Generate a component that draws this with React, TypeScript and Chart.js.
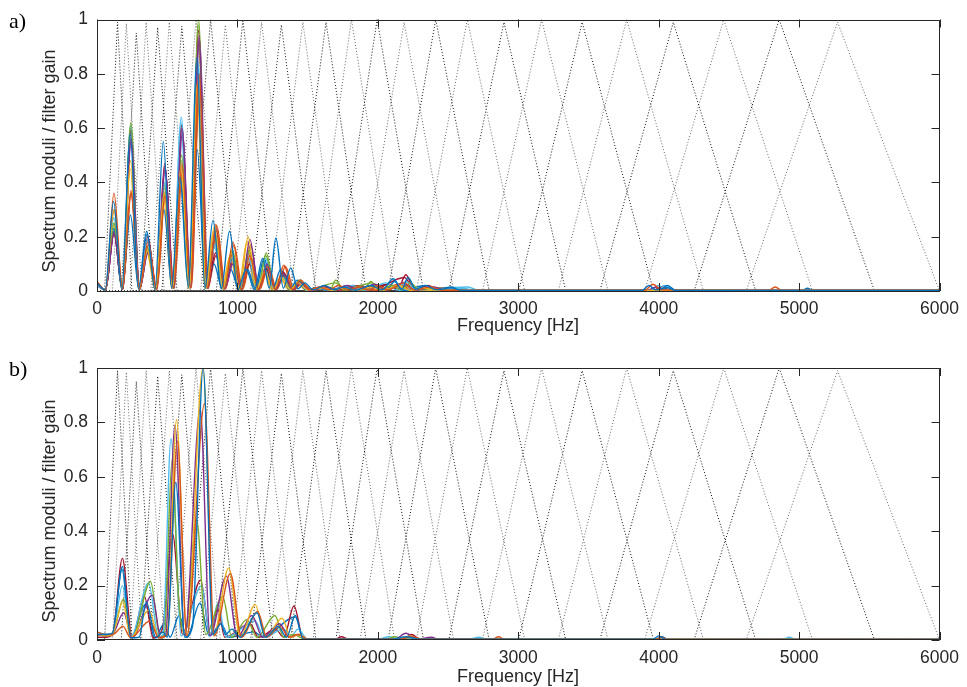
import React, { useEffect, useRef } from "react";
import { Chart, registerables } from "chart.js";
Chart.register(...registerables);

// ---------- axes ----------
const X_TICKS = [0, 1000, 2000, 3000, 4000, 5000, 6000];
const X_LABELS = ["0", "1000", "2000", "3000", "4000", "5000", "6000"];
const Y_TICKS = [0, 0.2, 0.4, 0.6, 0.8, 1];
const Y_LABELS = ["0", "0.2", "0.4", "0.6", "0.8", "1"];
const X_TITLE = "Frequency [Hz]";
const Y_TITLE = "Spectrum moduli / filter gain";

// ---------- mel filter bank (Hz) ----------
const FILTER_CENTERS = [146, 209, 280, 350, 432, 515, 604, 705, 809, 914, 1039, 1172, 1313, 1466, 1631, 1812, 1995, 2187, 2412, 2637, 2898, 3166, 3455, 3772, 4104, 4463, 4858, 5274];
const FILTER_LEFT = [54, 110, 173, 236, 309, 383, 462, 553, 645, 738, 850, 968, 1094, 1230, 1377, 1538, 1701, 1873, 2073, 2274, 2506, 2745, 3003, 3285, 3581, 3900, 4252, 4623];
const FILTER_RIGHT = [249, 320, 400, 479, 570, 664, 763, 878, 993, 1111, 1252, 1401, 1559, 1731, 1916, 2119, 2325, 2540, 2793, 3046, 3338, 3639, 3963, 4319, 4691, 5095, 5537, 6000];
const FILTER_PEAK = [0.99, 0.985, 0.95, 0.99, 0.97, 0.99, 0.975, 1, 1, 0.98, 1, 0.99, 0.98, 0.99, 0.99, 1, 1, 0.99, 1, 1, 0.99, 1, 0.99, 1, 0.99, 1, 1, 0.99];

// ---------- spectra, panel a: [Hz, modulus, Hz, modulus, ...] ----------
const A1 = [0,0.03, 58,0.004, 118,0.33, 177,0.006, 236,0.58, 295,0.008, 354,0.22, 413,0.006, 472,0.55, 531,0.01, 590,0.42, 650,0.015, 712,0.86, 768,0.01, 826,0.26, 885,0.008, 944,0.22, 1003,0.006, 1062,0.08, 1121,0.006, 1180,0.12, 1227,0.01, 1274,0.195, 1327,0.01, 1380,0.085, 1430,0.008, 1480,0.03, 1540,0.004, 1620,0.02, 1690,0.004, 1760,0.015, 1840,0.003, 1950,0.02, 2030,0.004, 2110,0.045, 2170,0.006, 2215,0.05, 2270,0.006, 2340,0.02, 2420,0.004, 2520,0.012, 2600,0.002, 3880,0.002, 3930,0.02, 3980,0.004, 4060,0.012, 4120,0.002, 6000,0.002];
const A2 = [0,0.035, 60,0.004, 121,0.36, 182,0.006, 242,0.37, 302,0.008, 363,0.18, 424,0.006, 484,0.35, 545,0.01, 605,0.47, 666,0.012, 726,0.80, 787,0.01, 847,0.245, 908,0.008, 968,0.18, 1029,0.006, 1089,0.13, 1150,0.006, 1210,0.09, 1270,0.006, 1331,0.095, 1392,0.006, 1452,0.04, 1512,0.004, 1580,0.015, 1650,0.004, 1720,0.02, 1790,0.004, 1860,0.015, 1930,0.004, 2000,0.02, 2070,0.004, 2190,0.03, 2260,0.004, 2380,0.015, 2460,0.002, 3900,0.002, 3960,0.025, 4020,0.004, 4780,0.002, 4830,0.015, 4880,0.002, 6000,0.002];
const A3 = [0,0.03, 60,0.004, 120,0.30, 180,0.006, 239,0.48, 299,0.008, 359,0.15, 418,0.006, 478,0.36, 538,0.01, 598,0.46, 657,0.01, 717,0.77, 777,0.01, 837,0.24, 896,0.008, 956,0.14, 1016,0.006, 1076,0.20, 1135,0.006, 1195,0.07, 1255,0.005, 1315,0.05, 1375,0.005, 1434,0.03, 1500,0.004, 1600,0.012, 1680,0.003, 1760,0.012, 1840,0.003, 1960,0.015, 2040,0.003, 2150,0.02, 2230,0.003, 2330,0.01, 2420,0.002, 6000,0.002];
const A4 = [0,0.025, 60,0.004, 121,0.21, 182,0.005, 242,0.56, 302,0.008, 363,0.14, 424,0.006, 484,0.46, 545,0.01, 605,0.60, 666,0.012, 726,0.94, 787,0.01, 847,0.23, 908,0.008, 968,0.10, 1029,0.006, 1089,0.19, 1150,0.006, 1210,0.10, 1270,0.006, 1331,0.06, 1392,0.005, 1452,0.03, 1512,0.003, 1600,0.015, 1680,0.003, 1780,0.02, 1860,0.003, 1980,0.025, 2060,0.003, 2180,0.03, 2260,0.003, 2400,0.015, 2480,0.002, 3920,0.002, 3980,0.015, 4040,0.002, 6000,0.002];
const A5 = [0,0.03, 60,0.004, 121,0.25, 181,0.006, 241,0.62, 301,0.008, 362,0.15, 422,0.006, 482,0.38, 542,0.01, 603,0.50, 663,0.012, 723,1.0, 784,0.01, 844,0.21, 904,0.008, 964,0.15, 1024,0.006, 1085,0.15, 1145,0.006, 1205,0.14, 1266,0.006, 1326,0.06, 1386,0.005, 1446,0.04, 1510,0.004, 1600,0.015, 1660,0.004, 1700,0.04, 1760,0.004, 1850,0.015, 1900,0.004, 1950,0.035, 2010,0.004, 2100,0.02, 2170,0.004, 2230,0.03, 2300,0.004, 2420,0.012, 2500,0.002, 6000,0.002];
const A6 = [0,0.02, 60,0.004, 120,0.27, 180,0.006, 240,0.61, 300,0.008, 360,0.19, 420,0.006, 480,0.40, 540,0.01, 600,0.64, 660,0.012, 720,0.83, 780,0.01, 840,0.17, 900,0.008, 960,0.12, 1020,0.006, 1080,0.12, 1140,0.006, 1200,0.12, 1260,0.006, 1320,0.05, 1380,0.005, 1440,0.03, 1500,0.003, 1580,0.012, 1660,0.003, 1820,0.02, 1900,0.003, 2060,0.03, 2130,0.004, 2200,0.035, 2270,0.004, 2600,0.01, 2700,0.002, 3940,0.002, 4000,0.02, 4060,0.002, 6000,0.002];
const A7 = [0,0.02, 60,0.004, 121,0.21, 181,0.006, 241,0.59, 301,0.008, 362,0.20, 422,0.006, 482,0.47, 542,0.01, 603,0.61, 663,0.012, 723,0.96, 784,0.01, 844,0.14, 904,0.008, 964,0.12, 1024,0.006, 1085,0.10, 1145,0.006, 1205,0.08, 1266,0.006, 1326,0.07, 1386,0.005, 1446,0.04, 1510,0.004, 1620,0.015, 1700,0.003, 1830,0.02, 1900,0.003, 2080,0.025, 2140,0.004, 2200,0.06, 2260,0.004, 2360,0.02, 2440,0.002, 3960,0.002, 4020,0.015, 4080,0.002, 6000,0.002];
const A8 = [0,0.03, 60,0.004, 119,0.23, 178,0.006, 238,0.28, 297,0.008, 357,0.21, 416,0.006, 476,0.30, 535,0.01, 595,0.41, 655,0.012, 714,0.52, 773,0.01, 833,0.10, 892,0.008, 952,0.08, 1011,0.006, 1071,0.08, 1130,0.006, 1190,0.12, 1250,0.006, 1309,0.08, 1368,0.005, 1428,0.04, 1490,0.004, 1560,0.012, 1640,0.003, 1760,0.015, 1830,0.003, 2000,0.02, 2060,0.003, 2120,0.035, 2180,0.003, 2340,0.02, 2400,0.003, 2520,0.015, 2600,0.002, 4000,0.002, 4060,0.02, 4120,0.003, 5020,0.002, 5060,0.01, 5100,0.002, 6000,0.002];
const A9 = [0,0.03, 61,0.004, 122,0.30, 183,0.006, 244,0.36, 305,0.008, 366,0.17, 427,0.006, 488,0.37, 549,0.01, 610,0.45, 671,0.012, 732,0.78, 793,0.01, 854,0.24, 915,0.008, 976,0.17, 1037,0.006, 1098,0.12, 1159,0.006, 1220,0.09, 1281,0.006, 1342,0.09, 1403,0.005, 1464,0.03, 1530,0.003, 1620,0.012, 1700,0.003, 1900,0.015, 1980,0.003, 2160,0.025, 2240,0.003, 2480,0.01, 2560,0.002, 6000,0.002];
const A10 = [0,0.03, 59,0.004, 119,0.24, 178,0.006, 237,0.45, 296,0.008, 356,0.14, 415,0.006, 474,0.34, 533,0.01, 593,0.44, 652,0.01, 711,0.76, 770,0.01, 830,0.22, 889,0.008, 948,0.13, 1007,0.006, 1067,0.18, 1126,0.006, 1185,0.08, 1245,0.005, 1304,0.05, 1363,0.005, 1422,0.03, 1490,0.003, 1560,0.01, 1640,0.003, 1780,0.012, 1860,0.003, 2230,0.015, 2300,0.003, 6000,0.002];
const A11 = [0,0.025, 61,0.004, 122,0.22, 183,0.005, 243,0.55, 304,0.008, 365,0.15, 426,0.006, 486,0.45, 547,0.01, 608,0.58, 669,0.012, 729,0.93, 790,0.01, 851,0.22, 912,0.008, 972,0.11, 1033,0.006, 1094,0.17, 1155,0.006, 1215,0.09, 1276,0.006, 1337,0.06, 1398,0.005, 1458,0.03, 1520,0.003, 1640,0.012, 1720,0.003, 1900,0.015, 1980,0.003, 2200,0.02, 2280,0.003, 6000,0.002];
const A12 = [0,0.03, 60,0.004, 120,0.25, 180,0.006, 240,0.60, 300,0.008, 361,0.16, 421,0.006, 481,0.39, 541,0.01, 601,0.48, 661,0.012, 721,0.98, 782,0.01, 842,0.20, 902,0.008, 962,0.14, 1022,0.006, 1082,0.15, 1142,0.006, 1202,0.13, 1262,0.006, 1323,0.06, 1383,0.005, 1443,0.035, 1500,0.003, 1700,0.03, 1760,0.003, 1960,0.03, 2020,0.003, 2220,0.02, 2300,0.003, 6000,0.002];
const A13 = [0,0.02, 60,0.004, 120,0.23, 180,0.006, 239,0.60, 299,0.008, 359,0.18, 418,0.006, 478,0.40, 538,0.01, 598,0.62, 657,0.012, 717,0.85, 777,0.01, 837,0.16, 896,0.008, 956,0.11, 1016,0.006, 1076,0.11, 1135,0.006, 1195,0.11, 1255,0.005, 1315,0.05, 1375,0.005, 1434,0.03, 1500,0.003, 1620,0.012, 1700,0.003, 2080,0.025, 2150,0.003, 2640,0.015, 2720,0.002, 3980,0.002, 4040,0.02, 4100,0.002, 6000,0.002];
const A14 = [0,0.025, 60,0.004, 121,0.22, 182,0.006, 242,0.36, 302,0.008, 363,0.19, 424,0.006, 484,0.46, 545,0.01, 605,0.60, 666,0.012, 726,0.71, 787,0.01, 847,0.13, 908,0.008, 968,0.11, 1029,0.006, 1089,0.10, 1150,0.006, 1210,0.08, 1270,0.006, 1331,0.065, 1392,0.005, 1452,0.035, 1512,0.003, 1640,0.015, 1720,0.003, 1880,0.02, 1950,0.003, 2190,0.05, 2260,0.004, 2500,0.012, 2580,0.002, 6000,0.002];

// ---------- spectra, panel b ----------
const B1 = [0,0.02, 60,0.02, 110,0.025, 181,0.27, 240,0.008, 300,0.01, 350,0.14, 420,0.008, 470,0.03, 500,0.01, 561,0.58, 625,0.01, 680,0.05, 756,1.0, 825,0.02, 883,0.06, 915,0.02, 960,0.04, 1020,0.01, 1139,0.10, 1200,0.01, 1290,0.05, 1350,0.01, 1412,0.09, 1470,0.003, 2100,0.003, 2200,0.012, 2300,0.003, 3960,0.003, 4000,0.015, 4050,0.002, 6000,0.002];
const B2 = [0,0.03, 60,0.02, 110,0.02, 185,0.05, 240,0.008, 376,0.07, 440,0.008, 500,0.02, 573,0.73, 640,0.015, 766,0.87, 835,0.015, 950,0.245, 1030,0.01, 1144,0.105, 1210,0.01, 1300,0.05, 1370,0.01, 1430,0.02, 1500,0.003, 2150,0.003, 2240,0.012, 2320,0.003, 2820,0.003, 2860,0.012, 2900,0.002, 3980,0.002, 4020,0.01, 4060,0.002, 6000,0.002];
const B3 = [0,0.02, 60,0.015, 110,0.02, 183,0.14, 240,0.008, 370,0.11, 440,0.008, 500,0.02, 566,0.81, 640,0.015, 754,1.0, 830,0.015, 938,0.265, 1020,0.01, 1126,0.13, 1200,0.01, 1318,0.08, 1380,0.01, 1440,0.02, 1500,0.003, 2150,0.003, 2230,0.015, 2300,0.003, 6000,0.002];
const B4 = [0,0.02, 60,0.015, 110,0.02, 190,0.10, 250,0.008, 393,0.165, 455,0.008, 490,0.02, 555,0.79, 625,0.015, 735,0.85, 805,0.015, 921,0.235, 1000,0.01, 1102,0.09, 1180,0.01, 1300,0.06, 1370,0.01, 1440,0.02, 1500,0.003, 2120,0.003, 2200,0.025, 2280,0.003, 2380,0.01, 2440,0.002, 6000,0.002];
const B5 = [0,0.02, 60,0.015, 110,0.02, 188,0.15, 250,0.008, 381,0.215, 450,0.008, 480,0.02, 534,0.66, 580,0.16, 625,0.02, 710,0.44, 775,0.02, 895,0.16, 960,0.01, 1067,0.075, 1140,0.01, 1267,0.09, 1330,0.01, 1400,0.02, 1480,0.003, 2060,0.003, 2120,0.012, 2180,0.003, 6000,0.002];
const B6 = [0,0.03, 60,0.02, 110,0.02, 181,0.20, 240,0.008, 367,0.21, 440,0.008, 470,0.02, 527,0.74, 600,0.015, 745,0.2, 805,0.02, 860,0.135, 920,0.01, 1126,0.07, 1190,0.01, 1330,0.04, 1380,0.01, 1431,0.04, 1500,0.003, 2000,0.003, 2080,0.012, 2150,0.003, 2650,0.003, 2720,0.01, 2780,0.002, 4880,0.002, 4930,0.01, 4980,0.002, 6000,0.002];
const B7 = [0,0.01, 60,0.01, 110,0.02, 181,0.30, 250,0.008, 338,0.16, 400,0.008, 470,0.05, 538,0.39, 610,0.02, 738,0.22, 805,0.02, 860,0.115, 910,0.01, 1090,0.06, 1150,0.01, 1270,0.04, 1330,0.01, 1403,0.125, 1470,0.003, 1700,0.003, 1740,0.012, 1790,0.003, 2180,0.003, 2240,0.02, 2300,0.003, 6000,0.002];
const B8 = [0,0.02, 60,0.02, 110,0.02, 178,0.26, 240,0.008, 345,0.13, 410,0.008, 480,0.06, 520,0.01, 585,0.09, 640,0.01, 733,0.135, 800,0.015, 883,0.06, 940,0.01, 1120,0.03, 1180,0.01, 1412,0.085, 1470,0.003, 3980,0.003, 4020,0.012, 4070,0.002, 6000,0.002];

const PANEL_A_SERIES = [A1, A2, A3, A4, A5, A6, A7, A8, A9, A10, A11, A12, A13, A14];
const PANEL_B_SERIES = [B1, B2, B3, B4, B5, B6, B7, B8];

const LINE_COLORS = ["#0072BD", "#D95319", "#EDB120", "#7E2F8E", "#77AC30", "#4DBEEE", "#A2142F"];
const FILTER_COLORS = ["#111111", "#666666"];
const AXIS_COLOR = "#262626";
const FONT = "'Liberation Sans', Arial, sans-serif";

const W = 967;
const PLOT_LEFT = 97;
const PLOT_RIGHT = 948;

function toPoints(flat: number[]) {
  const pts: { x: number; y: number }[] = [];
  for (let i = 0; i < flat.length; i += 2) pts.push({ x: flat[i], y: flat[i + 1] });
  return pts;
}

function buildDatasets(series: number[][]) {
  const ds: any[] = [];
  series.forEach((s, i) => {
    ds.push({
      data: toPoints(s),
      borderColor: LINE_COLORS[i % LINE_COLORS.length],
      borderWidth: 1.4,
      pointRadius: 0,
      cubicInterpolationMode: "monotone",
      fill: false,
      order: 0,
    });
  });
  FILTER_CENTERS.forEach((c, i) => {
    ds.push({
      data: [
        { x: 0, y: 0 },
        { x: FILTER_LEFT[i], y: 0 },
        { x: c, y: FILTER_PEAK[i] },
        { x: FILTER_RIGHT[i], y: 0 },
        { x: 6000, y: 0 },
      ],
      borderColor: FILTER_COLORS[i % 2],
      borderWidth: 1,
      borderDash: [1, 2],
      pointRadius: 0,
      tension: 0,
      fill: false,
      order: 1,
    });
  });
  return ds;
}

const framePlugin = {
  id: "frame",
  afterDatasetsDraw(chart: any, _args: any, opts: any) {
    const { ctx, chartArea: a, scales } = chart;
    const x = scales.x;
    const y = scales.y;
    ctx.save();
    ctx.strokeStyle = AXIS_COLOR;
    ctx.lineWidth = 1;
    ctx.beginPath();
    ctx.rect(Math.round(a.left) + 0.5, Math.round(a.top) + 0.5, Math.round(a.right - a.left) - 1, Math.round(a.bottom - a.top) - 1);
    const tl = 8;
    X_TICKS.forEach((v) => {
      const px = Math.round(x.getPixelForValue(v)) + 0.5;
      ctx.moveTo(px, a.bottom);
      ctx.lineTo(px, a.bottom - tl);
      ctx.moveTo(px, a.top);
      ctx.lineTo(px, a.top + tl);
    });
    Y_TICKS.forEach((v) => {
      const py = Math.round(y.getPixelForValue(v)) + 0.5;
      ctx.moveTo(a.left, py);
      ctx.lineTo(a.left + tl, py);
      ctx.moveTo(a.right, py);
      ctx.lineTo(a.right - tl, py);
    });
    ctx.stroke();

    // axis titles
    ctx.fillStyle = AXIS_COLOR;
    ctx.font = `18px ${FONT}`;
    ctx.textAlign = "center";
    ctx.textBaseline = "alphabetic";
    ctx.fillText(X_TITLE, opts.xTitleX, opts.xTitleY);
    ctx.save();
    ctx.translate(opts.yTitleX, opts.yTitleY);
    ctx.rotate(-Math.PI / 2);
    ctx.fillText(Y_TITLE, 0, 0);
    ctx.restore();

    // panel label
    ctx.fillStyle = "#000";
    ctx.font = "22px 'Liberation Serif', 'DejaVu Serif', serif";
    ctx.textAlign = "left";
    ctx.fillText(opts.label, 9, opts.labelY);
    ctx.restore();
  },
};

function makeConfig(series: number[][], label: string, labelY: number, height: number, plotTop: number, plotBottom: number, xTitleY: number, yTitleY: number) {
  return {
    type: "line",
    data: { datasets: buildDatasets(series) },
    plugins: [framePlugin],
    options: {
      animation: false,
      responsive: false,
      maintainAspectRatio: false,
      events: [],
      layout: { padding: { top: plotTop, right: W - PLOT_RIGHT, left: 0, bottom: 0 } },
      plugins: {
        legend: { display: false },
        tooltip: { enabled: false },
        frame: { label, labelY, xTitleX: 518, xTitleY, yTitleX: 55, yTitleY },
      },
      scales: {
        x: {
          type: "linear",
          min: 0,
          max: 6000,
          afterFit: (s: any) => { s.height = height - plotBottom; },
          afterBuildTicks: (s: any) => { s.ticks = X_TICKS.map((v) => ({ value: v })); },
          grid: { display: false, drawTicks: false },
          border: { display: false },
          ticks: {
            color: AXIS_COLOR,
            font: { family: FONT, size: 17.5 },
            padding: 8,
            maxRotation: 0,
            autoSkip: false,
            callback: (_v: any, i: number) => X_LABELS[i],
          },
          title: { display: false },
        },
        y: {
          type: "linear",
          min: 0,
          max: 1,
          afterFit: (s: any) => { s.width = PLOT_LEFT; },
          afterBuildTicks: (s: any) => { s.ticks = Y_TICKS.map((v) => ({ value: v })); },
          grid: { display: false, drawTicks: false },
          border: { display: false },
          ticks: {
            color: AXIS_COLOR,
            font: { family: FONT, size: 17.5 },
            padding: 9,
            autoSkip: false,
            callback: (_v: any, i: number) => Y_LABELS[i],
          },
          title: { display: false },
        },
      },
    },
  };
}

function Panel(props: { series: number[][]; label: string; labelY: number; top: number; height: number; plotTop: number; plotBottom: number; xTitleY: number; yTitleY: number }) {
  const ref = useRef<HTMLCanvasElement | null>(null);
  useEffect(() => {
    if (!ref.current) return;
    const chart = new Chart(ref.current, makeConfig(props.series, props.label, props.labelY, props.height, props.plotTop, props.plotBottom, props.xTitleY, props.yTitleY) as any);
    return () => chart.destroy();
  }, []);
  return (
    <canvas
      ref={ref}
      width={W}
      height={props.height}
      style={{ position: "absolute", left: 0, top: props.top, width: W, height: props.height, display: "block" }}
    />
  );
}

export default function App() {
  return (
    <div style={{ position: "fixed", left: 0, top: 0, width: W, height: 687, overflow: "hidden", background: "#fff" }}>
      <Panel series={PANEL_A_SERIES} label="a)" labelY={28} top={0} height={345} plotTop={18} plotBottom={291} xTitleY={331} yTitleY={161} />
      <Panel series={PANEL_B_SERIES} label="b)" labelY={31} top={345} height={342} plotTop={23} plotBottom={295} xTitleY={337} yTitleY={166} />
    </div>
  );
}
